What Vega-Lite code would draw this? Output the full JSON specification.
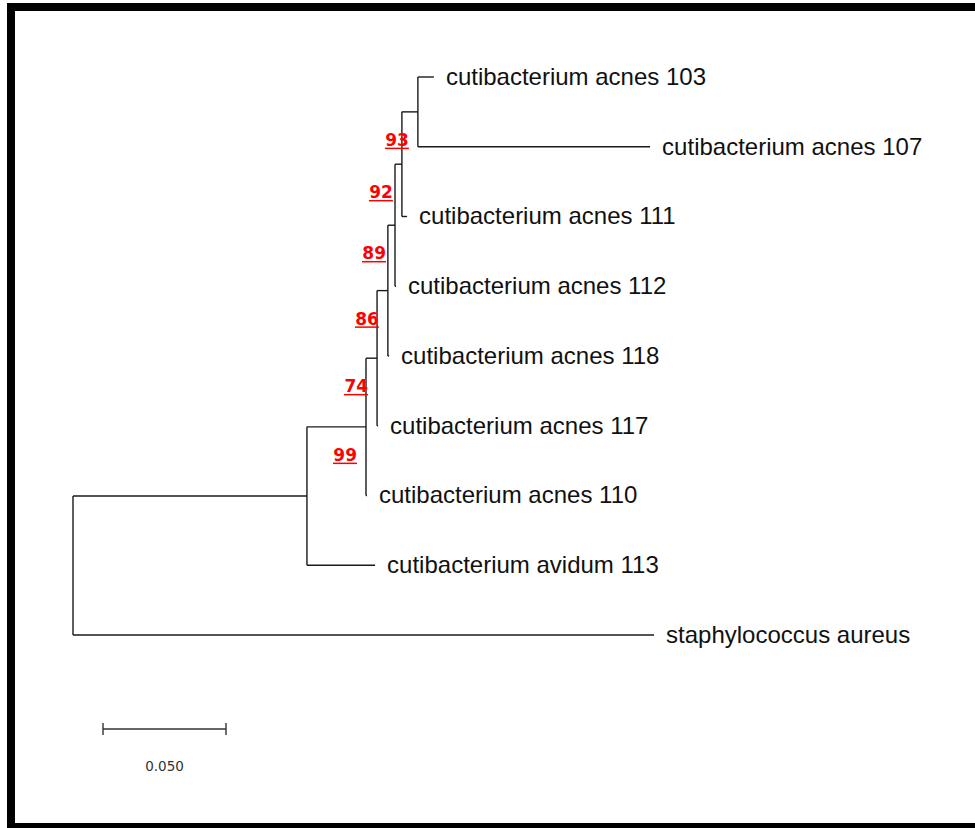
{
  "$schema": "https://vega.github.io/schema/vega-lite/v6.json",
  "width": 970,
  "height": 820,
  "autosize": {"type": "none"},
  "padding": {"left": 11, "top": 7, "right": -6, "bottom": 1},
  "background": "white",
  "config": {"view": {"stroke": "black", "strokeWidth": 8}},
  "datasets": {
    "nodes": [
      {"name": "root", "kind": "internal", "x": 0, "y": 7.0039, "px": null, "ylo": 6.0078, "yhi": 8, "boot": null, "label": null},
      {"name": "G", "kind": "internal", "x": 0.0951, "y": 6.0078, "px": 0, "ylo": 5.0156, "yhi": 7, "boot": null, "label": null},
      {"name": "F", "kind": "internal", "x": 0.1191, "y": 5.0156, "px": 0.0951, "ylo": 4.0313, "yhi": 6, "boot": "99", "label": null},
      {"name": "E", "kind": "internal", "x": 0.1236, "y": 4.0313, "px": 0.1191, "ylo": 3.0625, "yhi": 5, "boot": "74", "label": null},
      {"name": "D", "kind": "internal", "x": 0.128, "y": 3.0625, "px": 0.1236, "ylo": 2.125, "yhi": 4, "boot": "86", "label": null},
      {"name": "C", "kind": "internal", "x": 0.1309, "y": 2.125, "px": 0.128, "ylo": 1.25, "yhi": 3, "boot": "89", "label": null},
      {"name": "B", "kind": "internal", "x": 0.1337, "y": 1.25, "px": 0.1309, "ylo": 0.5, "yhi": 2, "boot": "92", "label": null},
      {"name": "A", "kind": "internal", "x": 0.1402, "y": 0.5, "px": 0.1337, "ylo": 0, "yhi": 1, "boot": "93", "label": null},
      {"name": "103", "kind": "leaf", "x": 0.1467, "y": 0, "px": 0.1402, "label": "cutibacterium acnes 103"},
      {"name": "107", "kind": "leaf", "x": 0.2346, "y": 1, "px": 0.1402, "label": "cutibacterium acnes 107"},
      {"name": "111", "kind": "leaf", "x": 0.1358, "y": 2, "px": 0.1337, "label": "cutibacterium acnes 111"},
      {"name": "112", "kind": "leaf", "x": 0.1313, "y": 3, "px": 0.1309, "label": "cutibacterium acnes 112"},
      {"name": "118", "kind": "leaf", "x": 0.1285, "y": 4, "px": 0.128, "label": "cutibacterium acnes 118"},
      {"name": "117", "kind": "leaf", "x": 0.124, "y": 5, "px": 0.1236, "label": "cutibacterium acnes 117"},
      {"name": "110", "kind": "leaf", "x": 0.1195, "y": 6, "px": 0.1191, "label": "cutibacterium acnes 110"},
      {"name": "113", "kind": "leaf", "x": 0.1228, "y": 7, "px": 0.0951, "label": "cutibacterium avidum 113"},
      {"name": "staph", "kind": "leaf", "x": 0.2362, "y": 8, "px": 0, "label": "staphylococcus aureus"}
    ],
    "scalebar": [
      {"x": 0.0122, "x2": 0.0622, "y": 9.348, "y2": 9.348},
      {"x": 0.0122, "x2": 0.0122, "y": 9.262, "y2": 9.434},
      {"x": 0.0622, "x2": 0.0622, "y": 9.262, "y2": 9.434}
    ],
    "scalelabel": [
      {"x": 0.0372, "y": 9.892, "text": "0.050"}
    ]
  },
  "layer": [
    {
      "data": {"name": "nodes"},
      "transform": [{"filter": "datum.px != null"}],
      "mark": {"type": "rule", "color": "#1a1a1a", "strokeWidth": 1.4},
      "encoding": {
        "x": {"field": "px", "type": "quantitative", "scale": {"domain": [-0.025203, 0.369106], "nice": false, "zero": false}, "axis": null},
        "x2": {"field": "x"},
        "y": {"field": "y", "type": "quantitative", "scale": {"domain": [-1.00358, 10.7527], "nice": false, "zero": false, "reverse": true}, "axis": null}
      }
    },
    {
      "data": {"name": "nodes"},
      "transform": [{"filter": "datum.kind == 'internal'"}],
      "mark": {"type": "rule", "color": "#1a1a1a", "strokeWidth": 1.4},
      "encoding": {
        "x": {"field": "x", "type": "quantitative"},
        "y": {"field": "ylo", "type": "quantitative"},
        "y2": {"field": "yhi"}
      }
    },
    {
      "data": {"name": "nodes"},
      "transform": [{"filter": "datum.kind == 'leaf'"}],
      "mark": {"type": "text", "align": "left", "baseline": "middle", "dx": 12, "dy": 1, "font": "Liberation Sans", "fontSize": 24, "color": "#111"},
      "encoding": {
        "x": {"field": "x", "type": "quantitative"},
        "y": {"field": "y", "type": "quantitative"},
        "text": {"field": "label"}
      }
    },
    {
      "data": {"name": "nodes"},
      "transform": [{"filter": "datum.boot != null"}],
      "mark": {"type": "text", "align": "right", "baseline": "alphabetic", "dx": -9, "dy": 34, "font": "DejaVu Sans", "fontSize": 17, "fontWeight": "bold", "color": "#ff0000"},
      "encoding": {
        "x": {"field": "x", "type": "quantitative"},
        "y": {"field": "y", "type": "quantitative"},
        "text": {"field": "boot"}
      }
    },
    {
      "data": {"name": "nodes"},
      "transform": [{"filter": "datum.boot != null"}],
      "mark": {"type": "rule", "color": "#ff0000", "strokeWidth": 1.5, "xOffset": -33, "x2Offset": -9, "yOffset": 36.5},
      "encoding": {
        "x": {"field": "x", "type": "quantitative"},
        "x2": {"field": "x"},
        "y": {"field": "y", "type": "quantitative"}
      }
    },
    {
      "data": {"name": "scalebar"},
      "mark": {"type": "rule", "color": "#333", "strokeWidth": 1.4},
      "encoding": {
        "x": {"field": "x", "type": "quantitative"},
        "x2": {"field": "x2"},
        "y": {"field": "y", "type": "quantitative"},
        "y2": {"field": "y2"}
      }
    },
    {
      "data": {"name": "scalelabel"},
      "mark": {"type": "text", "align": "center", "baseline": "middle", "font": "DejaVu Sans", "fontSize": 13.5, "color": "#333"},
      "encoding": {
        "x": {"field": "x", "type": "quantitative"},
        "y": {"field": "y", "type": "quantitative"},
        "text": {"field": "text"}
      }
    }
  ]
}
